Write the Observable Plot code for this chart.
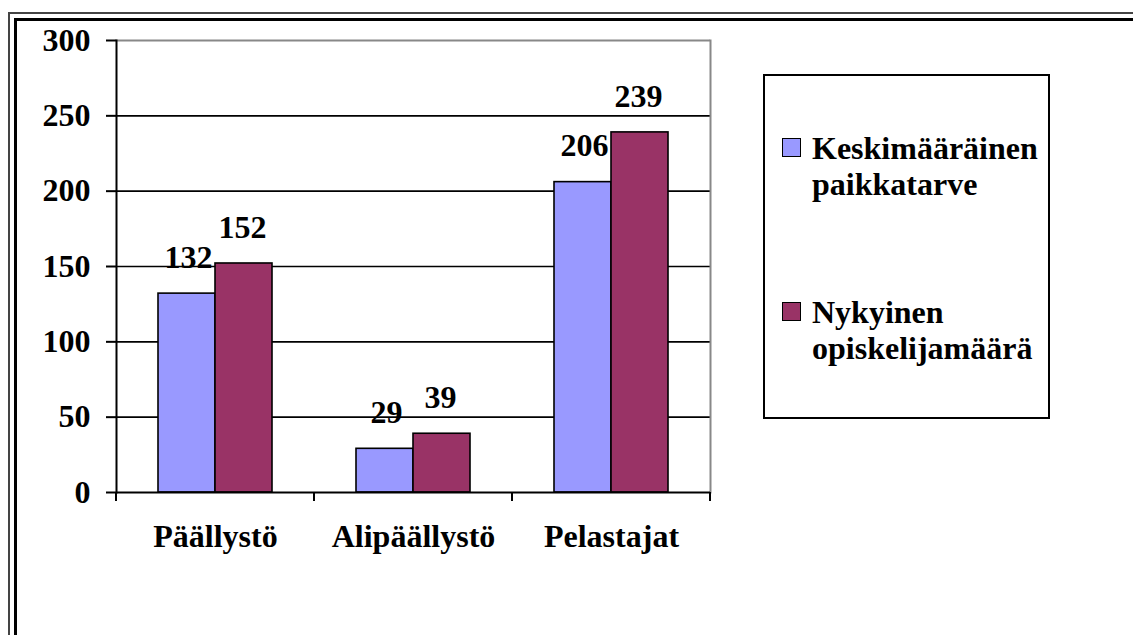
<!DOCTYPE html>
<html>
<head>
<meta charset="utf-8">
<script src="https://cdn.jsdelivr.net/npm/d3@7"></script>
<script src="https://cdn.jsdelivr.net/npm/@observablehq/plot@0.6"></script>
<style>
  html, body { margin: 0; padding: 0; background: #fff; }
  #wrap { position: relative; width: 1133px; height: 635px; overflow: hidden; font-family: "Liberation Serif", "Times New Roman", serif; font-weight: bold; }
  #chart { position: absolute; left: 0; top: 0; }
  #frameOuter { position: absolute; left: 8px; top: 12px; width: 1200px; height: 700px; border: 2px solid #444; }
  #frameInner { position: absolute; left: 14px; top: 18px; width: 1200px; height: 700px; border: 3px solid #000; }
  #legend { position: absolute; left: 763px; top: 74px; width: 283px; height: 341px; border: 2px solid #000; box-sizing: content-box; }
  .item { position: absolute; left: 17px; font-size: 32px; line-height: 36px; color: #000; }
  .sw { position: absolute; left: 0; top: 8px; width: 17px; height: 17px; border: 1.5px solid #000; }
  .lbl { position: absolute; left: 30px; top: 0; white-space: nowrap; }
</style>
</head>
<body>
<div id="wrap">
  <div id="chart"></div>
  <div id="frameOuter"></div>
  <div id="frameInner"></div>
  <div id="legend"></div>
</div>
<script>
const categories = ["Päällystö", "Alipäällystö", "Pelastajat"];
const seriesNames = ["Keskimääräinen paikkatarve", "Nykyinen opiskelijamäärä"];
const legendLines = [["Keskimääräinen", "paikkatarve"], ["Nykyinen", "opiskelijamäärä"]];
const seriesColors = ["#9999FF", "#993366"];
const demandValues = [132, 29, 206];
const studentValues = [152, 39, 239];
const yTicks = [0, 50, 100, 150, 200, 250, 300];

const demand = categories.map((c, i) => ({category: c, series: seriesNames[0], value: demandValues[i]}));
const students = categories.map((c, i) => ({category: c, series: seriesNames[1], value: studentValues[i]}));

const font = "Liberation Serif, Times New Roman, serif";

const plot = Plot.plot({
  width: 760,
  height: 635,
  marginLeft: 116,
  marginRight: 50,
  marginTop: 40,
  marginBottom: 143,
  style: {fontFamily: font, fontWeight: "bold", fontSize: "32px", color: "#000", background: "transparent", overflow: "visible"},
  x: {domain: categories, padding: 0, axis: null, label: null},
  y: {domain: [0, 300], axis: null, label: null},
  color: {domain: seriesNames, range: seriesColors},
  marks: [
    Plot.ruleY(yTicks.filter(t => t > 0 && t < 300), {stroke: "#000", strokeWidth: 1.6}),
    Plot.ruleY([300], {stroke: "#888", strokeWidth: 2}),
    Plot.frame({anchor: "right", stroke: "#888", strokeWidth: 2}),
    Plot.barY(demand, {x: "category", y: "value", fill: "series", stroke: "#000", strokeWidth: 1.6, insetLeft: 42, insetRight: 99}),
    Plot.barY(students, {x: "category", y: "value", fill: "series", stroke: "#000", strokeWidth: 1.6, insetLeft: 99, insetRight: 42}),
    Plot.ruleY([0], {stroke: "#000", strokeWidth: 2}),
    Plot.frame({anchor: "left", stroke: "#000", strokeWidth: 2}),
    Plot.text(demand, {x: "category", y: "value", text: d => String(d.value), dx: -27, dy: -36, fontSize: 32, fontWeight: "bold", fill: "#000"}),
    Plot.text(students, {x: "category", y: "value", text: d => String(d.value), dx: 27, dy: -36, fontSize: 32, fontWeight: "bold", fill: "#000"}),
    Plot.axisY({ticks: yTicks, tickSize: 10, tickPadding: 16, tickFormat: d => String(d), label: null, fontSize: 32, fontWeight: "bold", stroke: "#000", strokeWidth: 2}),
    Plot.axisX({tickSize: 0, tickPadding: 32, label: null, fontSize: 32, fontWeight: "bold"})
  ]
});

document.getElementById("chart").appendChild(plot);

// category boundary ticks, placed through the plot's own scales
const xs = plot.scale("x");
const ys = plot.scale("y");
const bounds = categories.map(c => xs.apply(c)).concat([xs.apply(categories[categories.length - 1]) + xs.bandwidth]);
const y0 = ys.apply(0);
d3.select(plot).append("g")
  .selectAll("line").data(bounds).join("line")
  .attr("x1", d => d).attr("x2", d => d)
  .attr("y1", y0).attr("y2", y0 + 9)
  .attr("stroke", "#000").attr("stroke-width", 2);

// legend
const legend = d3.select("#legend");
const tops = [54, 218];
seriesNames.forEach((s, i) => {
  const it = legend.append("div").attr("class", "item").style("top", tops[i] + "px");
  it.append("div").attr("class", "sw").style("background", seriesColors[i]);
  it.append("div").attr("class", "lbl").html(legendLines[i].join("<br>"));
});
</script>
</body>
</html>
